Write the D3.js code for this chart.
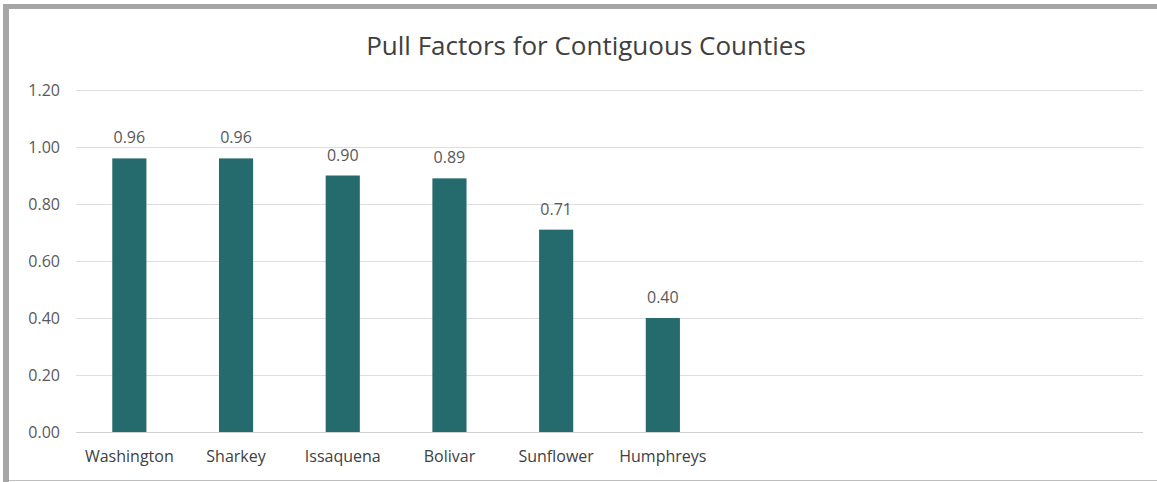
<!DOCTYPE html>
<html>
<head>
<meta charset="utf-8">
<script src="https://cdn.jsdelivr.net/npm/d3@7"></script>
<style>
  html, body { margin: 0; padding: 0; background: #fff; }
  svg { display: block; font-family: "Open Sans", "Noto Sans", sans-serif; }
</style>
</head>
<body>
<svg id="chart" width="1157" height="482"></svg>
<script>
// chart data
const counties = ['Washington', 'Sharkey', 'Issaquena', 'Bolivar', 'Sunflower', 'Humphreys']
const pullFactors = [0.96, 0.96, 0.90, 0.89, 0.71, 0.40]
const yTicks = [0, 0.2, 0.4, 0.6, 0.8, 1.0, 1.2]
const slotCount = 10 // the axis keeps room for 10 categories, only 6 are filled

const svg = d3.select('#chart')
const W = 1157, H = 482
const plot = { left: 76, right: 1143, top: 90, bottom: 432 }

// frame of the cropped chart
svg.append('rect').attr('x', 0).attr('y', 0).attr('width', W).attr('height', H).attr('fill', '#fff')
svg.append('rect').attr('x', 3).attr('y', 4).attr('width', W - 3).attr('height', 5).attr('fill', '#a6a6a6')
svg.append('rect').attr('x', 3).attr('y', 4).attr('width', 6).attr('height', H - 4).attr('fill', '#a6a6a6')
svg.append('rect').attr('x', 9).attr('y', H - 2).attr('width', W - 9).attr('height', 1).attr('fill', '#bfbfbf')

const x = d3.scaleBand()
  .domain(d3.range(slotCount))
  .range([plot.left, plot.right])
  .paddingInner(0.68)
  .paddingOuter(0.34)

const y = d3.scaleLinear().domain([0, 1.2]).range([plot.bottom, plot.top])

// gridlines
svg.append('g')
  .selectAll('line')
  .data(yTicks)
  .join('line')
  .attr('x1', plot.left)
  .attr('x2', plot.right)
  .attr('y1', d => Math.round(y(d)) + 0.5)
  .attr('y2', d => Math.round(y(d)) + 0.5)
  .attr('stroke', d => d === 0 ? '#d0d0d0' : '#dedede')
  .attr('stroke-width', 1)

// y axis labels
svg.append('g')
  .selectAll('text')
  .data(yTicks)
  .join('text')
  .attr('x', 60)
  .attr('y', d => y(d))
  .attr('dy', '0.35em')
  .attr('text-anchor', 'end')
  .attr('font-size', 16)
  .attr('fill', '#595959')
  .text(d => d.toFixed(2))

// bars
svg.append('g')
  .selectAll('rect')
  .data(pullFactors)
  .join('rect')
  .attr('x', (d, i) => x(i))
  .attr('width', x.bandwidth())
  .attr('y', d => y(d))
  .attr('height', d => y(0) - y(d))
  .attr('fill', '#256a6c')

// value labels
svg.append('g')
  .selectAll('text')
  .data(pullFactors)
  .join('text')
  .attr('x', (d, i) => x(i) + x.bandwidth() / 2)
  .attr('y', d => y(d) - 15)
  .attr('text-anchor', 'middle')
  .attr('font-size', 16)
  .attr('fill', '#595959')
  .text(d => d.toFixed(2))

// category labels
svg.append('g')
  .selectAll('text')
  .data(counties)
  .join('text')
  .attr('x', (d, i) => x(i) + x.bandwidth() / 2)
  .attr('y', 462)
  .attr('text-anchor', 'middle')
  .attr('font-size', 16)
  .attr('fill', '#404040')
  .text(d => d)

// title
svg.append('text')
  .attr('x', 586)
  .attr('y', 55)
  .attr('text-anchor', 'middle')
  .attr('font-size', 26)
  .attr('fill', '#404040')
  .text('Pull Factors for Contiguous Counties')
</script>
</body>
</html>
